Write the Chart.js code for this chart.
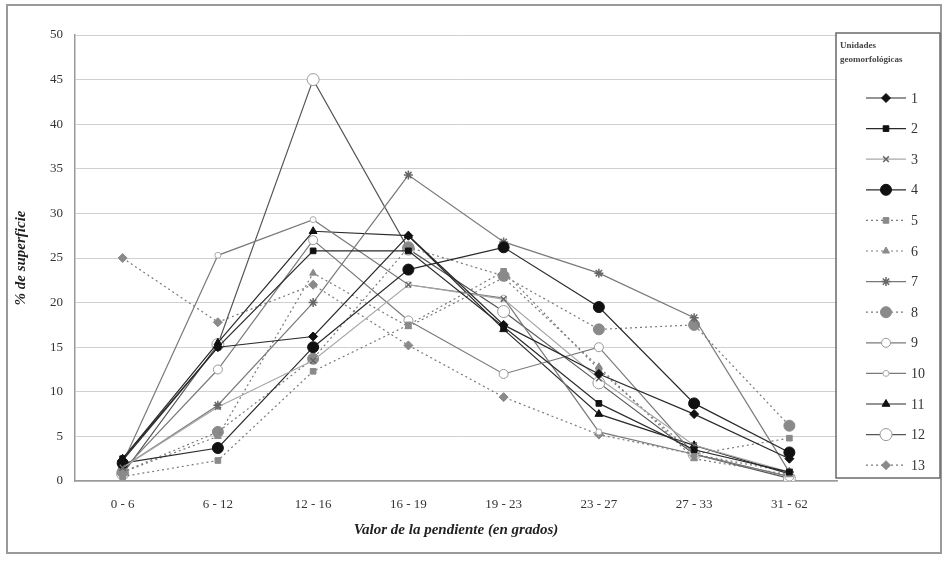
<!DOCTYPE html>
<html>
<head>
<meta charset="utf-8">
<script src="https://cdn.jsdelivr.net/npm/chart.js@4.4.1/dist/chart.umd.min.js"></script>
<style>
  html, body { margin: 0; padding: 0; background: #fff; }
  #wrap { width: 946px; height: 561px; }
</style>
</head>
<body>
<div id="wrap"><canvas id="c" width="946" height="561"></canvas></div>
<script>
// Slope classes (degrees)
const categories = ['0 - 6', '6 - 12', '12 - 16', '16 - 19', '19 - 23', '23 - 27', '27 - 33', '31 - 62'];

// % of surface per slope class, one array per geomorphological unit
const unit1  = [2.3, 15.0, 16.2, 27.5, 17.5, 12.0, 7.5, 2.5];
const unit2  = [2.5, 15.0, 25.8, 25.8, 17.3, 8.7, 3.5, 1.0];
const unit3  = [1.5, 8.3, 13.5, 22.0, 20.4, 11.5, 4.0, 1.0];
const unit4  = [2.0, 3.7, 15.0, 23.7, 26.2, 19.5, 8.7, 3.2];
const unit5  = [0.5, 2.3, 12.3, 17.5, 23.5, 12.5, 3.0, 4.8];
const unit6  = [1.0, 5.0, 23.3, 17.3, 22.8, 12.8, 2.5, 0.7];
const unit7  = [1.5, 8.5, 20.0, 34.3, 26.8, 23.3, 18.3, 1.0];
const unit8  = [1.0, 5.5, 13.7, 26.2, 23.0, 17.0, 17.5, 6.2];
const unit9  = [1.2, 12.5, 27.0, 18.0, 12.0, 15.0, 3.0, 0.5];
const unit10 = [2.0, 25.3, 29.3, 22.0, 20.5, 5.5, 3.0, 0.5];
const unit11 = [2.5, 15.5, 28.0, 27.5, 17.0, 7.5, 4.0, 0.8];
const unit12 = [0.8, 15.3, 45.0, 26.0, 19.0, 11.0, 3.0, 0.3];
const unit13 = [25.0, 17.8, 22.0, 15.2, 9.4, 5.2, 3.0, 1.0];

const unitLabels = ['1','2','3','4','5','6','7','8','9','10','11','12','13'];
const yTicks = [0, 5, 10, 15, 20, 25, 30, 35, 40, 45, 50];

const SERIF = '"Liberation Serif", "Times New Roman", serif';
const DARK = '#2a2a2a', MID = '#7a7a7a', LIGHT = '#a8a8a8';
const DOT = [2, 3];

function series(label, data, o) {
  return {
    label, data,
    borderColor: o.line,
    borderWidth: o.lw || 1.2,
    borderDash: o.dash || [],
    pointStyle: o.style,
    pointRadius: o.r,
    pointHoverRadius: o.r,
    pointBackgroundColor: o.fill,
    pointBorderColor: o.edge || o.fill,
    pointBorderWidth: o.bw || 1,
    tension: 0,
    fill: false
  };
}

const datasets = [
  series(unitLabels[0],  unit1,  { line: DARK, style: 'rectRot',  r: 4.5, fill: '#111' }),
  series(unitLabels[1],  unit2,  { line: DARK, style: 'rect',     r: 4,   fill: '#111' }),
  series(unitLabels[2],  unit3,  { line: LIGHT, style: 'crossRot', r: 4,  fill: '#777', edge: '#666', bw: 1.5 }),
  series(unitLabels[3],  unit4,  { line: DARK, style: 'circle',   r: 5.5, fill: '#111' }),
  series(unitLabels[4],  unit5,  { line: MID,  style: 'rect',     r: 4,   fill: '#8a8a8a', dash: DOT }),
  series(unitLabels[5],  unit6,  { line: MID,  style: 'triangle', r: 4,   fill: '#8a8a8a', dash: DOT }),
  series(unitLabels[6],  unit7,  { line: MID,  style: 'star',     r: 4.5, fill: '#777', edge: '#666', bw: 1.5 }),
  series(unitLabels[7],  unit8,  { line: MID,  style: 'circle',   r: 5.5, fill: '#8a8a8a', dash: DOT }),
  series(unitLabels[8],  unit9,  { line: MID,  style: 'circle',   r: 4.5, fill: '#fff', edge: '#999' }),
  series(unitLabels[9],  unit10, { line: MID,  style: 'circle',   r: 3,   fill: '#fff', edge: '#aaa' }),
  series(unitLabels[10], unit11, { line: DARK, style: 'triangle', r: 4.5, fill: '#111' }),
  series(unitLabels[11], unit12, { line: '#555', style: 'circle', r: 6,   fill: '#fff', edge: '#999' }),
  series(unitLabels[12], unit13, { line: MID,  style: 'rectRot',  r: 4.5, fill: '#8a8a8a', dash: DOT })
];

// Outer frame and white background
const framePlugin = {
  id: 'frame',
  beforeDraw(chart) {
    const ctx = chart.ctx;
    ctx.save();
    ctx.fillStyle = '#fff';
    ctx.fillRect(0, 0, chart.width, chart.height);
    ctx.strokeStyle = '#9a9a9a';
    ctx.lineWidth = 2;
    ctx.strokeRect(7, 5, 934, 548);
    ctx.restore();
  }
};

// Boxed legend with a line sample and marker for every unit
const boxLegend = {
  id: 'boxLegend',
  afterDraw(chart) {
    const ctx = chart.ctx;
    const x0 = 836, y0 = 33, w = 104, h = 445;
    ctx.save();
    ctx.strokeStyle = '#6a6a6a';
    ctx.lineWidth = 1.5;
    ctx.strokeRect(x0, y0, w, h);
    ctx.fillStyle = '#444';
    ctx.font = 'bold 9px ' + SERIF;
    ctx.textAlign = 'left';
    ctx.textBaseline = 'middle';
    ctx.fillText('Unidades', x0 + 4, 46);
    ctx.fillText('geomorfológicas', x0 + 4, 60);
    const top = 98, step = 30.6;
    chart.data.datasets.forEach((ds, i) => {
      const y = top + i * step;
      ctx.save();
      ctx.strokeStyle = ds.borderColor;
      ctx.lineWidth = ds.borderWidth;
      ctx.setLineDash(ds.borderDash || []);
      ctx.beginPath();
      ctx.moveTo(866, y);
      ctx.lineTo(906, y);
      ctx.stroke();
      ctx.restore();
      ctx.save();
      ctx.fillStyle = ds.pointBackgroundColor;
      ctx.strokeStyle = ds.pointBorderColor;
      ctx.lineWidth = ds.pointBorderWidth;
      Chart.helpers.drawPoint(ctx, {
        pointStyle: ds.pointStyle, radius: ds.pointRadius, rotation: 0,
        borderWidth: ds.pointBorderWidth
      }, 886, y);
      ctx.restore();
      ctx.fillStyle = '#333';
      ctx.font = '14px ' + SERIF;
      ctx.fillText(ds.label, 911, y + 1);
    });
    ctx.restore();
  }
};

new Chart(document.getElementById('c'), {
  type: 'line',
  data: { labels: categories, datasets },
  plugins: [framePlugin, boxLegend],
  options: {
    responsive: false,
    animation: false,
    devicePixelRatio: 1,
    layout: { padding: { left: 12, right: 109, top: 35, bottom: 22 } },
    plugins: { legend: { display: false }, tooltip: { enabled: false } },
    scales: {
      x: {
        offset: true,
        grid: { display: false, drawTicks: false },
        border: { display: true, color: '#9a9a9a', width: 1.5 },
        ticks: { color: '#333', font: { family: SERIF, size: 13 }, padding: 16, maxRotation: 0 },
        title: {
          display: true, text: 'Valor de la pendiente (en grados)', color: '#222',
          font: { family: SERIF, size: 15, style: 'italic', weight: 'bold' },
          padding: { top: 8, bottom: 0 }
        },
        afterFit(scale) { scale.height = 58; }
      },
      y: {
        min: 0, max: 50,
        afterBuildTicks(scale) { scale.ticks = yTicks.map(v => ({ value: v })); },
        grid: { color: '#d0d0d0', lineWidth: 1, drawTicks: false },
        border: { display: true, color: '#9a9a9a', width: 1.5 },
        ticks: { color: '#333', font: { family: SERIF, size: 13 }, padding: 12 },
        title: {
          display: true, text: '% de superficie', color: '#222',
          font: { family: SERIF, size: 15, style: 'italic', weight: 'bold' },
          padding: { top: 0, bottom: 4 }
        },
        afterFit(scale) { scale.width = 63; }
      }
    }
  }
});
</script>
</body>
</html>
